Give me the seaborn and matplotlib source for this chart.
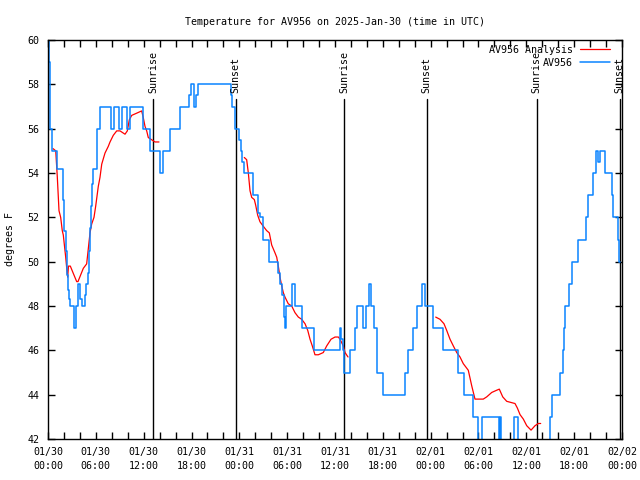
import matplotlib
matplotlib.use('Agg')
import matplotlib.pyplot as plt
import matplotlib.transforms as mtransforms
from matplotlib.ticker import MultipleLocator
import seaborn as sns

# ---------------- data ----------------
title = "Temperature for AV956 on 2025-Jan-30 (time in UTC)"
ylabel = "degrees F"

# hours since 2025-01-30 00:00 UTC
xtick_hours = [0, 6, 12, 18, 24, 30, 36, 42, 48, 54, 60, 66, 72]
xtick_labels = ["01/30\n00:00", "01/30\n06:00", "01/30\n12:00", "01/30\n18:00",
                "01/31\n00:00", "01/31\n06:00", "01/31\n12:00", "01/31\n18:00",
                "02/01\n00:00", "02/01\n06:00", "02/01\n12:00", "02/01\n18:00",
                "02/02\n00:00"]

sun_hours = [13.17, 23.54, 37.17, 47.5, 61.3, 71.7]
sun_labels = ["Sunrise", "Sunset", "Sunrise", "Sunset", "Sunrise", "Sunset"]

# observed station temperature (AV956), step series
blue_h = [0.00, 0.08, 0.2, 0.3, 0.5, 1.1, 1.88, 2.0, 2.2, 2.35, 2.47, 2.68, 2.76, 3.3, 3.51,
          3.8, 4.0, 4.26, 4.6, 4.8, 5.0, 5.2, 5.3, 5.4, 5.5, 5.65, 6.18, 6.52, 7.9, 8.28,
          8.94, 9.33, 9.95, 10.29, 11.96, 12.85, 14.05, 14.2, 14.45, 15.35, 16.6, 17.7,
          17.9, 18.3, 18.53, 18.85, 22.9, 23.05, 23.4, 23.96, 24.2, 24.37, 24.55, 25.75,
          26.38, 26.6, 27.0, 27.76, 28.9, 29.15, 29.4, 29.6, 29.77, 29.9, 30.65, 31.0,
          31.8, 33.35, 36.6, 36.75, 36.95, 37.15, 37.9, 38.5, 38.8, 39.47, 39.9, 40.3,
          40.48, 40.93, 41.23, 41.3, 42.06, 44.78, 45.2, 45.75, 46.32, 46.88, 47.3, 48.26,
          49.59, 51.47, 52.18, 53.35, 53.98, 54.4, 56.6, 56.72, 56.8, 58.5, 59.0, 62.97,
          63.18, 64.2, 64.64, 64.73, 64.8, 64.85, 64.9, 65.39, 65.77, 66.52, 67.49, 67.74,
          68.36, 68.7, 69.03, 69.24, 69.87, 70.71, 70.91, 71.54, 71.66, 71.7]
blue_t = [61.0, 59.0, 57.0, 56.0, 55.0, 54.2, 52.8, 51.4, 50.5, 49.4, 48.7, 48.3, 48.0, 47.0, 48.0,
          49.0, 48.3, 48.0, 48.5, 49.0, 49.5, 50.5, 51.5, 52.5, 53.5, 54.2, 56.0, 57.0, 56.0, 57.0,
          56.0, 57.0, 56.0, 57.0, 56.0, 55.0, 54.0, 54.0, 55.0, 56.0, 57.0, 57.5,
          58.0, 57.0, 57.5, 58.0, 57.5, 57.0, 56.0, 55.5, 55.0, 54.5, 54.0, 53.0,
          52.2, 52.0, 51.0, 50.0, 49.5, 49.0, 48.5, 47.5, 47.0, 48.0, 49.0, 48.0,
          47.0, 46.0, 47.0, 46.5, 46.0, 45.0, 46.0, 47.0, 48.0, 47.0, 48.0, 49.0,
          48.0, 47.0, 46.0, 45.0, 44.0, 45.0, 46.0, 47.0, 48.0, 49.0, 48.0, 47.0,
          46.0, 45.0, 44.0, 43.0, 41.5, 43.0, 41.5, 43.0, 41.5, 43.0, 41.5, 43.0,
          44.0, 45.0, 46.0, 47.0, 48.0, 47.3, 48.0, 49.0, 50.0, 51.0, 52.0, 53.0,
          54.0, 55.0, 54.5, 55.0, 54.0, 53.0, 52.0, 51.0, 50.0, 50.0]

# analysis series (AV956 Analysis), three segments
red1_h = [0.63, 0.97, 1.17, 1.38, 1.59, 1.79, 1.92, 2.04, 2.22, 2.35, 2.47, 2.57, 2.8, 3.14,
          3.6, 3.76, 4.43, 4.85, 5.06, 5.27, 5.48, 5.77, 5.98, 6.31, 6.52, 6.74, 7.15, 7.56,
          7.78, 8.19, 8.62, 9.03, 9.66, 9.95, 10.2, 10.5, 11.13, 11.75, 11.95, 12.17, 12.38,
          12.58, 13.0, 13.42, 13.92]
red1_t = [55.1, 55.0, 53.8, 52.3, 52.0, 51.4, 51.2, 50.8, 50.2, 49.7, 49.3, 49.8, 49.8, 49.5,
          49.1, 49.1, 49.7, 49.9, 50.6, 51.3, 51.7, 52.0, 52.5, 53.4, 53.8, 54.4, 54.9, 55.2,
          55.4, 55.7, 55.9, 55.9, 55.75, 55.9, 56.4, 56.6, 56.7, 56.8, 56.5, 56.1, 55.9,
          55.6, 55.5, 55.4, 55.4]

red2_h = [24.62, 24.92, 25.13, 25.34, 25.55, 25.88, 26.05, 26.3, 26.59, 27.0, 27.43, 27.76,
          28.06, 28.47, 28.69, 28.89, 29.1, 29.32, 29.52, 29.73, 30.14, 30.57, 30.98, 31.4,
          31.82, 32.24, 32.58, 32.87, 33.15, 33.49, 33.91, 34.53, 34.96, 35.5, 36.0, 36.42,
          36.63, 37.04, 37.26, 37.63]
red2_t = [54.7, 54.6, 54.0, 53.2, 52.9, 52.8, 52.55, 52.1, 51.8, 51.6, 51.4, 51.3,
          50.75, 50.4, 50.2, 49.8, 49.3, 48.9, 48.6, 48.4, 48.1, 48.0, 47.7, 47.5,
          47.4, 47.2, 46.9, 46.5, 46.2, 45.8, 45.8, 45.9, 46.2, 46.5, 46.6, 46.6,
          46.5, 46.2, 45.9, 45.7]

red3_h = [48.63, 49.17, 49.67, 50.01, 50.43, 50.84, 51.27, 51.68, 52.09, 52.72, 53.15, 53.56,
          54.6, 55.03, 55.66, 56.28, 56.61, 57.04, 57.54, 58.58, 58.87, 59.21, 59.62, 60.05,
          60.59, 61.09, 61.5, 61.8]
red3_t = [47.5, 47.4, 47.2, 46.9, 46.5, 46.2, 45.9, 45.7, 45.4, 45.1, 44.4, 43.8,
          43.8, 43.9, 44.1, 44.2, 44.25, 43.9, 43.7, 43.6, 43.4, 43.1, 42.9, 42.6,
          42.4, 42.6, 42.7, 42.7]

# ---------------- style ----------------
sns.set_theme(style="ticks")
plt.rcParams['font.family'] = ['DejaVu Sans Mono']
FS = 7.2
RED = '#ff0000'
BLUE = '#0a84ff'

fig = plt.figure(figsize=(6.4, 4.8), dpi=100)
ax = fig.add_axes([48 / 640, 1 - 439 / 480, (622 - 48) / 640, (439 - 40) / 480])

sns.lineplot(x=red1_h, y=red1_t, color=RED, lw=0.9, label='AV956 Analysis', ax=ax, sort=False)
sns.lineplot(x=red2_h, y=red2_t, color=RED, lw=0.9, label='_nolegend_', ax=ax, sort=False)
sns.lineplot(x=red3_h, y=red3_t, color=RED, lw=0.9, label='_nolegend_', ax=ax, sort=False)
sns.lineplot(x=blue_h, y=blue_t, color=BLUE, lw=1.1, drawstyle='steps-post',
             label='AV956', ax=ax, sort=False)

trans = mtransforms.blended_transform_factory(ax.transData, ax.transAxes)
for h, lab in zip(sun_hours, sun_labels):
    ax.axvline(h, ymin=0, ymax=0.852, color='black', lw=1.0, zorder=1)
    ax.text(h, 0.867, lab, transform=trans, rotation=90, ha='center', va='bottom',
            fontsize=FS, color='black')

ax.set_xlim(0, 72)
ax.set_ylim(42, 60)
ax.set_xticks(xtick_hours)
ax.set_xticklabels(xtick_labels)
ax.xaxis.set_minor_locator(MultipleLocator(2))
ax.set_yticks(range(42, 61, 2))
ax.tick_params(which='both', direction='in', top=True, right=True, length=5, width=1,
               color='black', labelsize=FS, labelcolor='black')
ax.tick_params(axis='x', pad=6)
ax.tick_params(axis='y', pad=6)
for t in ax.get_xticklabels():
    t.set_linespacing(1.5)

for sp in ax.spines.values():
    sp.set_color('black')
    sp.set_linewidth(1.0)
ax.grid(False)
ax.set_facecolor('white')

ax.set_ylabel(ylabel, fontsize=FS, color='black')
ax.yaxis.set_label_coords(-0.058, 0.5)
ax.set_xlabel('')
ax.set_title(title, fontsize=FS, color='black', pad=11)

leg = ax.legend(loc='upper right', bbox_to_anchor=(1 - 7 / 574, 1.0),
                markerfirst=False, frameon=False, fontsize=FS,
                handlelength=3.0, handletextpad=0.7, labelspacing=0.3,
                borderaxespad=0.3, borderpad=0.2)
for txt in leg.get_texts():
    txt.set_color('black')

fig.savefig('out.png', dpi=100, facecolor='white')
